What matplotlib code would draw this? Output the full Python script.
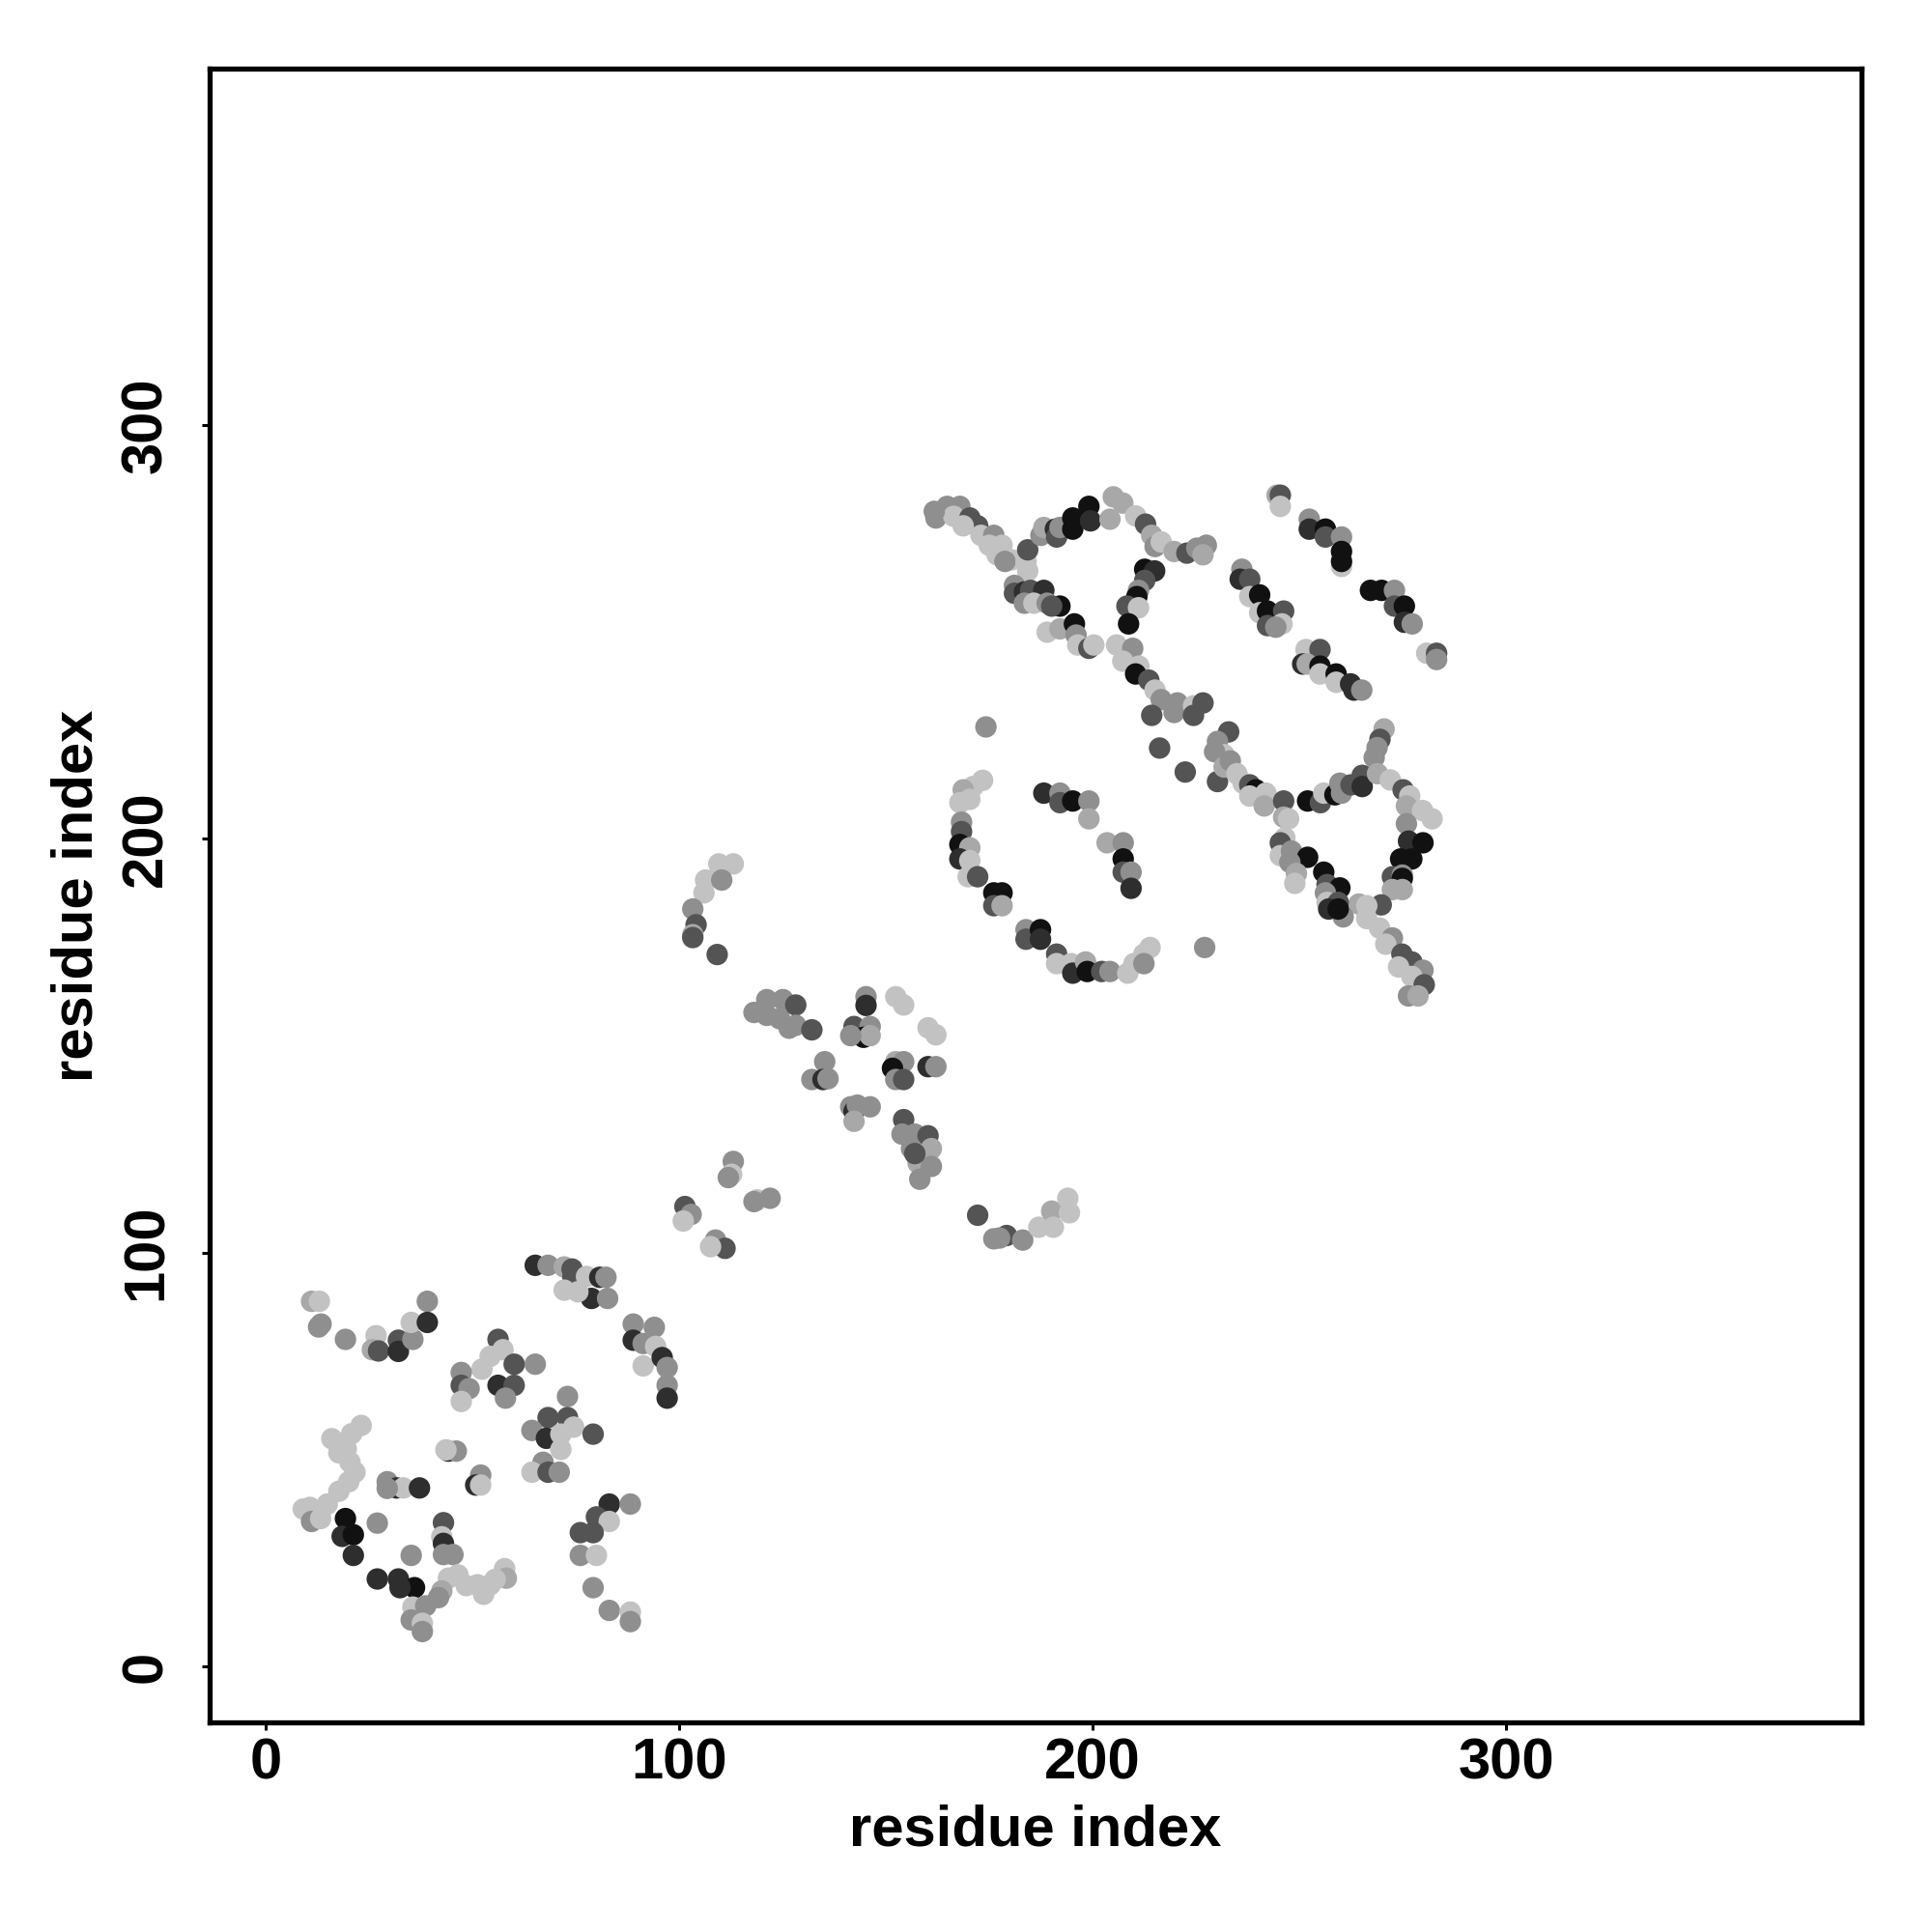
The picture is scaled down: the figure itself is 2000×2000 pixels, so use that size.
import numpy as np
import matplotlib.pyplot as plt
import matplotlib as mpl

mpl.rcParams["font.family"] = ["Liberation Sans", "DejaVu Sans"]
mpl.rcParams["font.weight"] = "bold"

# grey level of each contact point (0 = black, 1 = white)
V, D, K, M, L, W = 0.07, 0.18, 0.33, 0.56, 0.66, 0.76

# (residue i, residue j, grey) -- N-terminal block
block_a = [
    (11.1, 88.2, L), (13.0, 88.2, W), (13.4, 82.7, M), (12.8, 82.0, M), (19.3, 79.0, M),
    (26.7, 79.9, W), (25.8, 76.5, L), (27.3, 76.2, K), (32.1, 78.8, K), (32.1, 76.1, D),
    (35.6, 79.0, M), (35.2, 83.1, W), (39.1, 88.2, M), (39.1, 83.1, D),
    (65.2, 96.9, D), (68.3, 96.9, M), (72.2, 96.5, L), (74.1, 96.0, K), (74.3, 94.0, K),
    (77.6, 94.2, W), (80.8, 94.0, D), (82.3, 94.0, M), (72.2, 90.9, W), (78.8, 88.9, D),
    (82.7, 88.9, M), (75.5, 90.5, W),
    (88.9, 82.7, M), (94.0, 81.9, M), (88.9, 78.8, D), (91.3, 78.0, M), (94.3, 77.3, W),
    (91.3, 72.6, W), (95.9, 74.6, D), (97.1, 72.2, M), (97.1, 67.9, M), (97.1, 64.8, D),
    (56.2, 79.0, K), (57.4, 76.5, W), (54.3, 74.9, W), (52.3, 71.8, W), (60.1, 73.0, K),
    (65.2, 73.0, M), (47.3, 71.0, M), (47.3, 67.9, K), (49.2, 67.1, M), (47.3, 64.0, W),
    (56.2, 67.9, D), (60.1, 67.9, K), (58.0, 64.8, M),
    (73.0, 65.2, M), (68.3, 60.1, K), (73.0, 60.1, K), (74.5, 57.8, W), (64.4, 57.0, M),
    (67.9, 55.1, D), (71.4, 56.1, W), (71.4, 52.4, W), (79.2, 56.1, K), (67.1, 49.3, M),
    (64.4, 46.9, W), (68.3, 46.9, K), (71.0, 46.9, M),
]

block_b = [
    (23.1, 58.2, W), (20.8, 56.2, W), (18.5, 53.9, W), (17.7, 51.6, W), (20.4, 49.3, W),
    (21.6, 46.9, W), (20.1, 44.6, W), (17.7, 42.3, W), (14.9, 39.2, W), (10.7, 38.4, W),
    (9.1, 38.0, W), (11.1, 35.0, M), (13.3, 35.7, W), (16.0, 55.0, W), (19.5, 52.5, W),
    (19.3, 35.7, V), (18.5, 31.4, D), (21.2, 31.8, V), (21.2, 26.8, D), (27.0, 34.6, M),
    (29.4, 44.6, M), (31.7, 43.1, D), (33.3, 43.1, W), (37.2, 43.1, D), (29.4, 43.0, M),
    (44.2, 52.0, D), (46.1, 52.0, M), (43.6, 52.3, W),
    (52.0, 46.2, M), (50.8, 43.8, D), (52.0, 43.8, W),
    (43.0, 34.7, K), (42.6, 31.3, W), (43.0, 29.7, D), (43.0, 27.0, M), (45.3, 27.0, M),
    (35.2, 26.8, M),
    (27.0, 21.1, D), (32.1, 21.1, D), (36.0, 19.0, V), (32.5, 19.0, D),
    (46.5, 22.1, W), (44.2, 21.3, W), (42.6, 18.2, L), (41.8, 16.6, M), (51.2, 19.7, W),
    (54.3, 19.7, W), (57.8, 23.6, W), (58.2, 21.3, L), (52.7, 17.4, W), (55.5, 21.0, W),
    (48.5, 19.5, W),
    (35.6, 14.3, W), (38.7, 14.6, M), (35.2, 11.2, M), (37.9, 10.4, W), (37.9, 8.4, M),
    (83.1, 39.2, D), (88.2, 39.2, M), (80.0, 36.1, K), (83.1, 35.0, W), (76.1, 32.3, K),
    (79.2, 32.3, K), (76.1, 26.8, M), (80.0, 26.8, W), (79.2, 19.0, M), (83.1, 13.5, M),
    (88.2, 13.1, W), (88.2, 10.8, M),
]

# middle domain
block_c = [
    (109.6, 193.9, W), (113.1, 193.9, W), (106.4, 190.0, W), (110.3, 190.0, M), (106.0, 186.9, W),
    (103.3, 183.0, M), (104.1, 179.2, K), (103.3, 176.8, L), (103.3, 176.1, K), (109.2, 172.0, K),
    (113.1, 122.0, M), (112.7, 118.9, W), (111.9, 118.1, M), (118.9, 112.7, W), (122.0, 113.1, M),
    (118.1, 112.3, M), (101.4, 111.1, K), (102.9, 109.2, M), (101.0, 107.6, W), (108.8, 103.0, M),
    (111.1, 101.0, K), (107.6, 101.4, W),
    (118.1, 158.0, M), (121.2, 161.1, M), (125.1, 161.1, M), (121.2, 157.3, M), (124.3, 156.5, M),
    (128.2, 159.8, K), (128.2, 154.9, M), (132.1, 153.8, K), (126.6, 154.2, M),
    (145.2, 161.8, M), (145.2, 159.7, D), (152.4, 161.8, W), (154.3, 159.8, W), (142.3, 154.6, K),
    (146.2, 154.6, M), (144.6, 152.0, V), (146.2, 152.4, L), (141.5, 152.4, M), (160.2, 154.3, W),
    (162.1, 152.6, W),
    (135.2, 146.1, M), (132.1, 141.8, M), (134.8, 141.8, D), (136.0, 142.0, M),
    (152.4, 146.1, L), (154.3, 146.1, M), (151.6, 144.5, V), (152.4, 141.8, M), (154.3, 141.8, K),
    (160.2, 144.9, D), (162.1, 144.9, M),
    (141.5, 135.2, M), (142.3, 134.1, D), (143.1, 135.6, M), (146.2, 135.2, M), (142.3, 131.7, L),
    (154.3, 132.1, K), (153.9, 128.6, M), (157.0, 128.6, M), (160.2, 128.2, K), (156.2, 125.1, M),
    (161.0, 125.1, L), (157.8, 121.6, L), (161.0, 120.8, M), (158.2, 117.7, M), (157.0, 123.9, K),
    (172.2, 109.0, K), (176.1, 103.3, M), (179.2, 104.1, K), (183.1, 103.0, M), (187.0, 106.1, W),
    (190.1, 110.0, L), (190.5, 106.1, W), (194.0, 113.1, W), (194.4, 109.6, W), (177.5, 103.5, M),
]

# C-terminal domain, upper part
block_d = [
    (162.1, 277.5, M), (164.8, 280.3, M), (167.9, 280.3, M), (166.4, 277.9, W), (170.3, 277.5, K),
    (172.2, 275.6, K), (168.7, 275.6, W), (173.0, 273.3, W), (176.1, 273.3, M), (175.0, 270.9, W),
    (178.1, 270.9, W), (176.9, 268.6, W), (180.4, 267.4, W), (178.8, 267.0, M), (183.9, 267.0, W),
    (184.3, 264.7, W), (184.3, 269.8, K), (161.7, 279.1, M),
    (187.5, 273.3, M), (188.2, 275.2, L), (191.0, 274.8, D), (191.3, 272.9, K), (192.1, 275.2, M),
    (195.2, 277.5, V), (195.2, 274.8, V), (199.1, 280.3, V), (199.5, 276.8, D),
    (181.1, 261.2, M), (181.1, 259.3, K), (183.5, 259.6, D), (185.0, 260.0, K), (188.2, 260.0, D),
    (183.5, 256.9, M), (185.8, 256.9, W), (189.0, 256.9, M), (192.1, 256.2, V), (190.1, 256.2, K),
    (189.0, 249.9, W), (192.1, 250.7, L), (195.6, 251.9, V), (196.0, 249.2, M), (196.4, 246.8, W),
    (199.1, 246.0, K), (200.3, 246.8, W),
    (205.0, 282.6, L), (204.2, 277.2, L), (207.3, 281.1, L), (210.4, 278.0, W), (212.8, 276.0, K),
    (214.3, 273.3, L), (215.1, 270.6, M), (216.6, 271.7, W), (219.7, 269.4, L), (222.8, 269.0, K),
    (225.2, 270.2, M), (227.5, 270.9, M), (226.7, 268.6, L),
    (212.6, 265.1, V), (215.0, 264.7, D), (212.6, 262.4, K), (211.1, 260.0, M), (210.7, 258.5, V),
    (208.3, 256.2, K), (211.1, 255.8, W), (208.7, 251.9, V),
    (205.8, 246.8, W), (209.7, 246.0, M), (207.3, 242.9, W), (211.2, 241.7, W), (210.4, 239.8, V),
    (213.6, 238.3, K), (215.1, 235.9, W), (216.6, 233.6, M), (220.5, 232.8, M), (219.7, 230.5, M),
    (224.4, 232.1, W), (226.7, 232.8, K), (214.3, 229.8, K), (224.4, 229.8, K),
    (174.2, 227.0, M), (216.2, 221.9, K),
    (244.6, 283.0, L), (245.4, 283.0, K), (245.4, 280.3, W),
    (252.4, 277.2, M), (252.4, 274.8, D), (256.3, 274.8, V), (256.3, 272.9, K), (260.2, 272.9, M),
    (260.2, 265.8, W), (260.2, 269.4, V), (260.2, 267.0, V),
    (267.2, 260.0, V), (269.9, 260.0, V), (273.0, 260.0, M), (273.0, 256.2, K), (275.4, 256.2, V),
    (275.4, 252.3, D), (277.3, 251.9, M),
    (280.8, 244.8, W), (283.2, 244.8, K), (283.2, 243.3, M),
    (236.1, 265.1, M), (235.7, 262.7, D), (238.0, 262.7, K), (238.0, 258.5, W), (240.4, 258.9, V),
    (240.4, 254.6, W), (242.3, 255.0, V), (246.2, 255.0, K), (242.3, 251.5, K), (245.8, 251.9, W),
    (244.3, 251.1, M),
    (251.6, 245.7, W), (255.0, 245.7, K), (250.8, 242.2, D), (251.9, 242.2, L), (255.0, 241.7, V),
    (255.0, 239.8, W), (258.9, 239.8, V), (258.9, 237.8, W), (262.4, 237.4, D), (263.2, 235.9, D),
    (265.1, 235.9, M),
    (232.9, 225.8, K), (230.2, 223.5, M), (231.8, 220.3, W), (229.5, 221.0, M),
    (270.5, 226.5, L), (269.5, 224.0, K), (268.8, 222.0, M),
]

# C-terminal domain, lower part
block_e = [
    (173.4, 214.1, W), (171.1, 212.6, W), (168.7, 211.8, L), (167.9, 208.7, W), (170.3, 209.5, W),
    (168.3, 204.0, M), (168.3, 201.7, K), (167.9, 198.6, V), (170.3, 197.8, L), (167.9, 195.1, D),
    (170.3, 194.7, W), (169.9, 190.8, W), (172.2, 190.8, K), (176.1, 186.9, V), (178.1, 186.9, V),
    (176.1, 183.8, K), (178.1, 183.8, L),
    (183.9, 178.0, M), (183.9, 175.7, K), (187.4, 178.0, V), (187.4, 175.7, D),
    (191.3, 172.1, K), (191.3, 169.8, W), (194.8, 169.8, W), (195.2, 167.5, D), (198.3, 170.2, L),
    (198.7, 167.9, V), (202.2, 167.9, K), (204.2, 167.9, M), (208.5, 167.5, W), (210.0, 169.8, W),
    (212.4, 172.1, W), (213.9, 173.7, W), (212.4, 169.8, M),
    (188.2, 211.0, D), (192.1, 211.0, M), (192.1, 208.7, K), (195.2, 209.1, V), (199.1, 209.1, M),
    (199.1, 204.8, L),
    (203.5, 199.0, L), (207.4, 199.0, M), (207.4, 195.1, V), (207.4, 191.9, K), (209.3, 191.9, M),
    (209.3, 188.0, D),
    (227.1, 173.7, M), (222.4, 216.1, K),
    (230.2, 213.8, K), (231.8, 217.3, L), (233.3, 218.8, M), (234.9, 215.7, W), (236.4, 213.4, W),
    (238.0, 213.0, K), (239.5, 211.8, V), (238.0, 210.3, W), (241.9, 211.0, W), (241.5, 207.9, L),
    (246.2, 209.1, K), (246.2, 205.2, L), (247.4, 204.8, W),
    (252.0, 209.1, V), (255.1, 208.7, K), (255.9, 211.0, W), (258.6, 210.6, V), (260.2, 211.0, M),
    (259.8, 213.4, M), (262.5, 213.0, K), (265.2, 215.3, K), (265.2, 212.6, D),
    (268.1, 219.6, M), (268.9, 215.7, L), (272.0, 214.2, W), (275.1, 211.8, K), (276.7, 210.3, W),
    (275.9, 207.9, L), (279.8, 206.8, W), (282.1, 204.8, W), (275.9, 203.6, M),
    (276.4, 199.4, D), (279.9, 199.0, V), (274.5, 195.1, V), (277.2, 195.1, V), (272.5, 190.8, K),
    (274.9, 191.2, M), (274.9, 190.4, V), (272.5, 187.7, L), (274.9, 187.7, L), (269.8, 184.0, K),
    (264.4, 184.2, L), (266.3, 183.8, W),
    (266.3, 180.7, W), (269.4, 178.4, W), (272.5, 176.0, M), (270.9, 174.5, W), (274.8, 172.1, K),
    (277.2, 170.2, K), (274.0, 169.0, W), (279.9, 168.2, M), (277.2, 166.7, W), (280.2, 164.7, K),
    (276.4, 162.0, M), (278.7, 162.0, L),
    (246.5, 200.2, W), (245.4, 199.0, K), (245.4, 195.9, W), (248.1, 197.0, M), (252.0, 195.5, V),
    (247.7, 194.3, M), (249.3, 191.6, L), (248.9, 189.2, W), (255.9, 191.9, V), (256.7, 188.9, K),
    (259.8, 188.1, V), (256.3, 186.9, M), (256.7, 184.6, W), (259.4, 184.6, K), (257.1, 183.0, D),
    (260.6, 181.1, M), (259.4, 183.0, V),
]

contacts = np.array(block_a + block_b + block_c + block_d + block_e)
res_i, res_j, grey = contacts[:, 0], contacts[:, 1], contacts[:, 2]

fig = plt.figure(figsize=(10, 10), dpi=200)
ax = fig.add_axes([0.1084, 0.1084, 0.8552, 0.8559])
ax.scatter(res_i, res_j, c=grey, cmap="gray", vmin=0, vmax=1, s=64, linewidths=0)

ax.set_xlim(-13.6, 386)
ax.set_ylim(-13.6, 386)
ax.set_xticks([0, 100, 200, 300])
ax.set_yticks([0, 100, 200, 300])
for sp in ax.spines.values():
    sp.set_linewidth(1.9)
ax.tick_params(length=3, width=1.1, labelsize=21.5)
ax.tick_params(axis="x", pad=2.5)
ax.tick_params(axis="y", pad=10.5)
for lab in ax.get_yticklabels():
    lab.set_rotation(90)
    lab.set_va("center")
ax.set_xlabel("residue index", fontsize=21.5, fontweight="bold", labelpad=5)
ax.set_ylabel("residue index", fontsize=21.5, fontweight="bold", labelpad=6)

fig.savefig("out.png", dpi=200)
